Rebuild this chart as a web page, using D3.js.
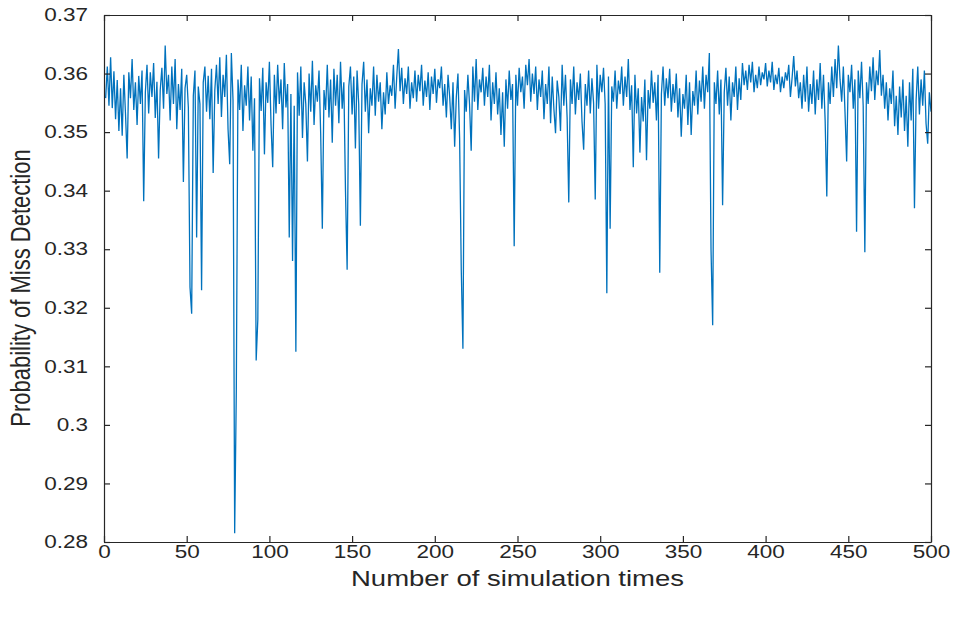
<!DOCTYPE html>
<html>
<head>
<meta charset="utf-8">
<script src="https://cdn.jsdelivr.net/npm/d3@7"></script>
<style>
  body { margin: 0; background: #fff; }
  text { font-family: "Liberation Sans", Arial, sans-serif; fill: #262626; }
</style>
</head>
<body>
<script>
const margin = {top: 15, right: 24, bottom: 79, left: 104};
const width = 955 - margin.left - margin.right;
const height = 621 - margin.top - margin.bottom;

const line_color = "#0072BD";
const axis_color = "#262626";
const tick_len = 6;
const stretch = 1.25; // the source picture is widened sideways

const x_ticks = [0, 50, 100, 150, 200, 250, 300, 350, 400, 450, 500];
const y_ticks = [0.28, 0.29, 0.30, 0.31, 0.32, 0.33, 0.34, 0.35, 0.36, 0.37];
const x_label = "Number of simulation times";
const y_label = "Probability of Miss Detection";

// miss detection probability for runs 1..500
const miss_prob = [
  0.3558, 0.3612, 0.3545, 0.3628, 0.3541, 0.3604, 0.3522, 0.3589, 0.3502, 0.3575,
  0.3494, 0.3598, 0.3531, 0.3455, 0.3602, 0.3558, 0.3625, 0.3538, 0.3585, 0.3512,
  0.3596, 0.3548, 0.3605, 0.3382, 0.3568, 0.3615, 0.3532, 0.3602, 0.3560, 0.3618,
  0.3524, 0.3586, 0.3455, 0.3572, 0.3610, 0.3540, 0.3648, 0.3565, 0.3598, 0.3520,
  0.3612, 0.3548, 0.3625, 0.3505, 0.3582, 0.3538, 0.3608, 0.3415, 0.3575, 0.3598,
  0.3542, 0.3235, 0.3190, 0.3562, 0.3605, 0.3320, 0.3578, 0.3548, 0.3230, 0.3585,
  0.3612, 0.3535, 0.3596, 0.3522, 0.3608, 0.3430, 0.3572, 0.3615, 0.3548, 0.3628,
  0.3526, 0.3598, 0.3560, 0.3632, 0.3505, 0.3445, 0.3635, 0.3555, 0.2815, 0.3060,
  0.3590, 0.3538, 0.3615, 0.3502, 0.3580, 0.3545, 0.3612, 0.3520, 0.3595, 0.3468,
  0.3558, 0.3110, 0.3180, 0.3592, 0.3536, 0.3610, 0.3462, 0.3585, 0.3550, 0.3620,
  0.3512, 0.3440, 0.3598, 0.3532, 0.3615, 0.3548, 0.3590, 0.3505, 0.3618, 0.3542,
  0.3582, 0.3320, 0.3565, 0.3280, 0.3545, 0.3125, 0.3602, 0.3528, 0.3612, 0.3490,
  0.3585, 0.3548, 0.3450, 0.3600, 0.3535, 0.3622, 0.3512, 0.3580, 0.3552, 0.3605,
  0.3498, 0.3335, 0.3572, 0.3538, 0.3615, 0.3525, 0.3590, 0.3482, 0.3608, 0.3545,
  0.3598, 0.3515, 0.3620, 0.3540, 0.3585, 0.3400, 0.3265, 0.3578, 0.3612, 0.3530,
  0.3595, 0.3472, 0.3605, 0.3548, 0.3340, 0.3582, 0.3620, 0.3535, 0.3590, 0.3498,
  0.3575, 0.3545, 0.3612, 0.3528, 0.3598, 0.3552, 0.3585, 0.3505, 0.3568, 0.3530,
  0.3602, 0.3548, 0.3580, 0.3562, 0.3615, 0.3540, 0.3595, 0.3642, 0.3570, 0.3610,
  0.3548, 0.3592, 0.3565, 0.3612, 0.3540, 0.3585, 0.3558, 0.3605, 0.3552, 0.3598,
  0.3570, 0.3615, 0.3545, 0.3588, 0.3560, 0.3602, 0.3538, 0.3595, 0.3565, 0.3608,
  0.3550, 0.3590, 0.3575, 0.3612, 0.3545, 0.3582, 0.3525, 0.3598, 0.3560, 0.3505,
  0.3585, 0.3475, 0.3560, 0.3600, 0.3490, 0.3265, 0.3130, 0.3572, 0.3535, 0.3598,
  0.3548, 0.3468, 0.3612, 0.3552, 0.3625, 0.3538, 0.3590, 0.3568, 0.3610, 0.3545,
  0.3595, 0.3560, 0.3615, 0.3520, 0.3585, 0.3548, 0.3602, 0.3530, 0.3575, 0.3495,
  0.3568, 0.3475, 0.3590, 0.3540, 0.3605, 0.3555, 0.3582, 0.3305, 0.3598, 0.3545,
  0.3610, 0.3568, 0.3595, 0.3540, 0.3615, 0.3580, 0.3625, 0.3552, 0.3600, 0.3565,
  0.3612, 0.3538, 0.3590, 0.3560, 0.3605, 0.3522, 0.3582, 0.3548, 0.3612, 0.3515,
  0.3595, 0.3540, 0.3498, 0.3588, 0.3560, 0.3502, 0.3615, 0.3545, 0.3598, 0.3525,
  0.3380, 0.3590, 0.3548, 0.3612, 0.3530, 0.3585, 0.3555, 0.3600, 0.3518, 0.3470,
  0.3582, 0.3545, 0.3605, 0.3532, 0.3592, 0.3550, 0.3385, 0.3615, 0.3540, 0.3598,
  0.3568, 0.3610, 0.3548, 0.3225, 0.3595, 0.3335, 0.3578, 0.3552, 0.3605, 0.3540,
  0.3588, 0.3565, 0.3612, 0.3545, 0.3595, 0.3560, 0.3625, 0.3538, 0.3580, 0.3440,
  0.3598, 0.3532, 0.3575, 0.3465, 0.3560, 0.3518, 0.3590, 0.3452, 0.3572, 0.3540,
  0.3605, 0.3550, 0.3585, 0.3520, 0.3598, 0.3260, 0.3565, 0.3612, 0.3545, 0.3592,
  0.3558, 0.3608, 0.3535, 0.3582, 0.3550, 0.3600, 0.3525, 0.3575, 0.3492, 0.3565,
  0.3540, 0.3598, 0.3512, 0.3585, 0.3495, 0.3570, 0.3545, 0.3605, 0.3530, 0.3588,
  0.3552, 0.3612, 0.3540, 0.3598, 0.3568, 0.3635, 0.3300, 0.3170, 0.3585, 0.3548,
  0.3605, 0.3530, 0.3590, 0.3375, 0.3568, 0.3610, 0.3545, 0.3595, 0.3520, 0.3585,
  0.3560, 0.3612, 0.3538, 0.3592, 0.3555, 0.3618, 0.3580, 0.3605, 0.3572, 0.3615,
  0.3585, 0.3620, 0.3568, 0.3598, 0.3575, 0.3612, 0.3580, 0.3602, 0.3590, 0.3618,
  0.3578, 0.3605, 0.3585, 0.3620, 0.3572, 0.3598, 0.3582, 0.3610, 0.3568, 0.3595,
  0.3575, 0.3602, 0.3588, 0.3615, 0.3560, 0.3592, 0.3630, 0.3578, 0.3605, 0.3558,
  0.3585, 0.3540, 0.3598, 0.3552, 0.3612, 0.3535, 0.3582, 0.3548, 0.3605, 0.3530,
  0.3590, 0.3555, 0.3618, 0.3540, 0.3598, 0.3520, 0.3390, 0.3585, 0.3548, 0.3612,
  0.3560, 0.3625, 0.3575, 0.3648, 0.3590, 0.3552, 0.3612, 0.3535, 0.3450, 0.3598,
  0.3568, 0.3615, 0.3540, 0.3590, 0.3330, 0.3605, 0.3558, 0.3620, 0.3545, 0.3295,
  0.3585, 0.3548, 0.3612, 0.3570, 0.3628, 0.3555, 0.3605, 0.3580, 0.3640, 0.3562,
  0.3598, 0.3540, 0.3585, 0.3520, 0.3575, 0.3548, 0.3605, 0.3510, 0.3562, 0.3495,
  0.3578, 0.3525, 0.3590, 0.3502, 0.3562, 0.3475, 0.3585, 0.3520, 0.3608, 0.3370,
  0.3555, 0.3612, 0.3530, 0.3590, 0.3545, 0.3605, 0.3515, 0.3480, 0.3568, 0.3535
];

let svg = d3.select("body").append("svg")
        .attr("width", 955)
        .attr("height", 621);

let g = svg.append("g")
        .attr("transform", "translate(" + margin.left + "," + margin.top + ")");

let x_scale = d3.scaleLinear().domain([0, 500]).range([0, width]);
let y_scale = d3.scaleLinear().domain([0.28, 0.37]).range([height, 0]);

// data line
let line = d3.line()
        .x((d, i) => x_scale(i + 1))
        .y(d => y_scale(d));

g.append("path")
  .datum(miss_prob)
  .attr("fill", "none")
  .attr("stroke", line_color)
  .attr("stroke-width", 1.3)
  .attr("d", line);

// axes, ticks pointing inward like matlab
let fmt = d => d3.format(".2f")(d).replace(/0$/, "").replace(/\.$/, "");

let x_axis = g.append("g")
  .attr("transform", "translate(0," + height + ")")
  .call(d3.axisBottom(x_scale).tickValues(x_ticks).tickSizeInner(-tick_len).tickSizeOuter(0).tickPadding(3));

let x_top = g.append("g")
  .call(d3.axisTop(x_scale).tickValues(x_ticks).tickSizeInner(-tick_len).tickSizeOuter(0).tickFormat(""));

let y_axis = g.append("g")
  .call(d3.axisLeft(y_scale).tickValues(y_ticks).tickSizeInner(-tick_len).tickSizeOuter(0).tickPadding(16).tickFormat(fmt));

let y_right = g.append("g")
  .attr("transform", "translate(" + width + ",0)")
  .call(d3.axisRight(y_scale).tickValues(y_ticks).tickSizeInner(-tick_len).tickSizeOuter(0).tickFormat(""));

[x_axis, x_top, y_axis, y_right].forEach(a => {
  a.selectAll("path, line").attr("stroke", axis_color).attr("stroke-width", 1.2);
  a.selectAll("text").style("font-size", "18px").attr("fill", axis_color);
});

// widen the tick labels sideways, keeping their anchor point
x_axis.selectAll("text").attr("transform", "scale(" + stretch + ",1)");
y_axis.selectAll("text")
  .attr("x", -16 / stretch)
  .attr("transform", "scale(" + stretch + ",1)");

svg.append("text")
  .attr("transform", "translate(" + (margin.left + width / 2) + ",586) scale(" + stretch + ",1)")
  .attr("text-anchor", "middle")
  .style("font-size", "22px")
  .text(x_label);

svg.append("text")
  .attr("transform", "translate(30,288) scale(" + stretch + ",1) rotate(-90)")
  .attr("text-anchor", "middle")
  .style("font-size", "22px")
  .text(y_label);
</script>
</body>
</html>
